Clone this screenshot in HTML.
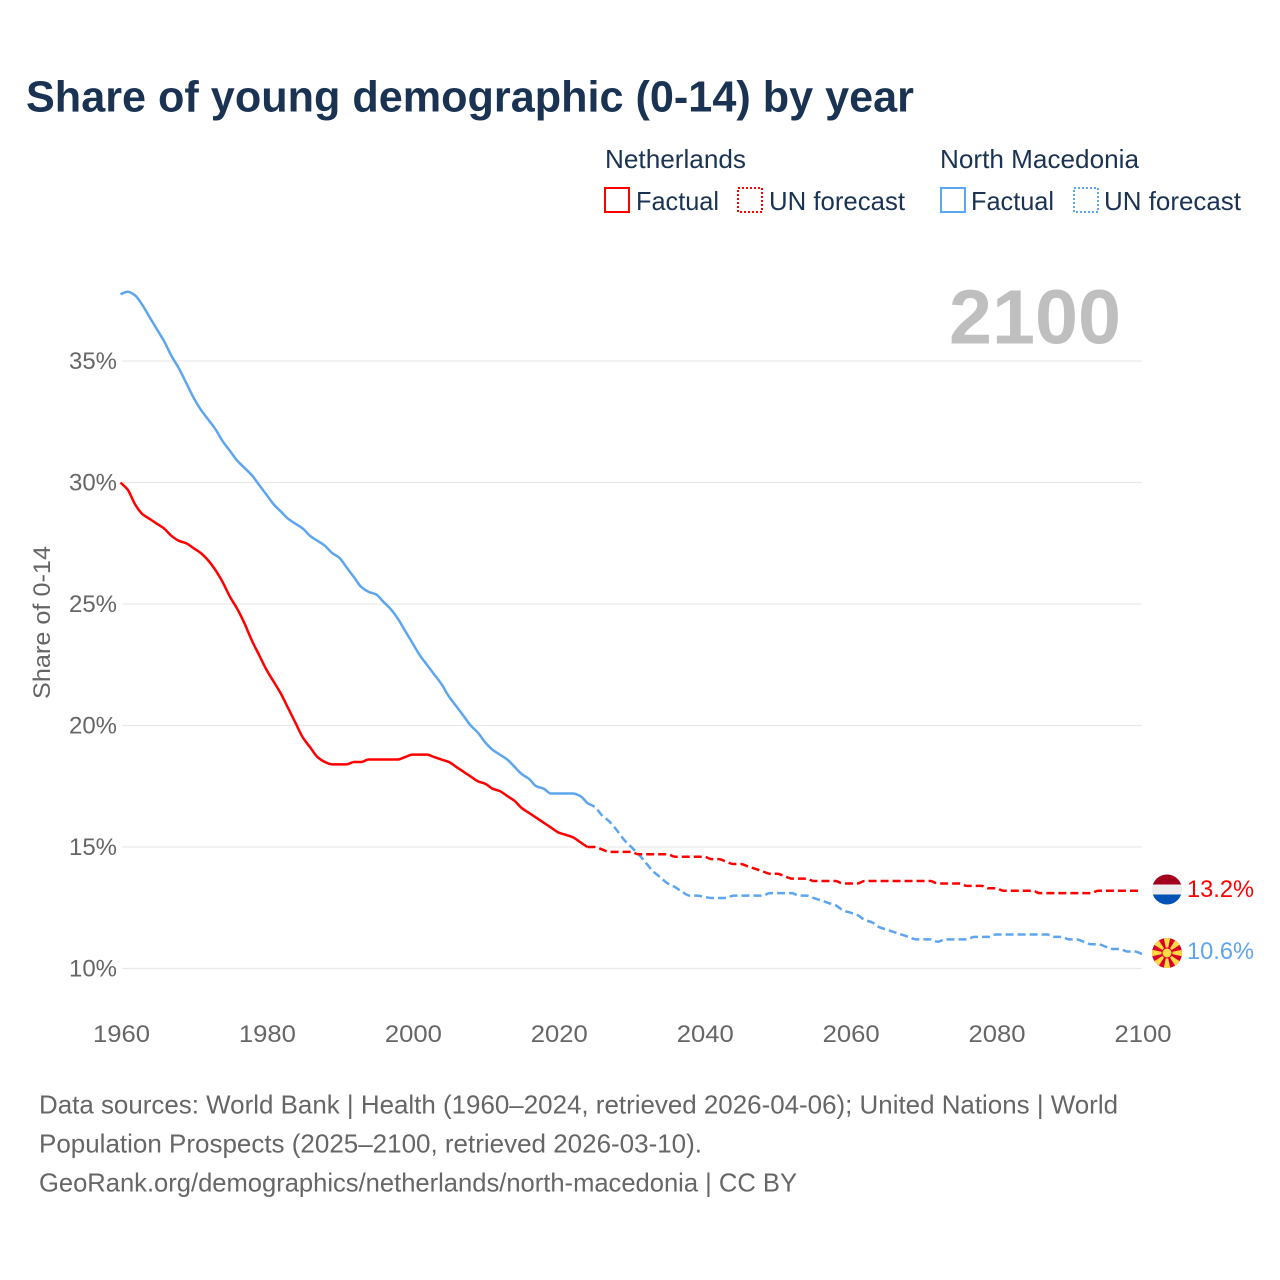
<!DOCTYPE html>
<html lang="en">
<head>
<meta charset="utf-8">
<title>Share of young demographic (0-14) by year</title>
<style>
html,body{margin:0;padding:0;background:#fff}
svg{display:block;font-family:"Liberation Sans",sans-serif}
</style>
</head>
<body>
<svg id="chart" xmlns="http://www.w3.org/2000/svg" width="1280" height="1280" viewBox="0 0 1280 1280">
<defs>
<clipPath id="flag-nl-clip"><circle cx="1167" cy="889.5" r="15"/></clipPath>
<clipPath id="flag-mk-clip"><circle cx="1167" cy="953" r="15"/></clipPath>
</defs>
<rect width="1280" height="1280" fill="#fff"/>
<text x="26" y="111.5" font-size="44" font-weight="700" fill="#1a3353" textLength="888" lengthAdjust="spacingAndGlyphs">Share of young demographic (0-14) by year</text>

<g font-size="26" fill="#1a3353">
<text x="605" y="168" textLength="141" lengthAdjust="spacingAndGlyphs">Netherlands</text>
<rect x="605" y="188" width="24" height="24" fill="none" stroke="#ff0000" stroke-width="2"/>
<text x="636" y="210" textLength="83" lengthAdjust="spacingAndGlyphs">Factual</text>
<rect x="738" y="188" width="24" height="24" fill="none" stroke="#ff0000" stroke-width="2" stroke-dasharray="2 2"/>
<text x="769" y="210" textLength="136" lengthAdjust="spacingAndGlyphs">UN forecast</text>
<text x="940" y="168" textLength="199" lengthAdjust="spacingAndGlyphs">North Macedonia</text>
<rect x="941" y="188" width="24" height="24" fill="none" stroke="#5da5ee" stroke-width="2"/>
<text x="971" y="210" textLength="83" lengthAdjust="spacingAndGlyphs">Factual</text>
<rect x="1074" y="188" width="24" height="24" fill="none" stroke="#5da5ee" stroke-width="2" stroke-dasharray="2 2"/>
<text x="1104" y="210" textLength="137" lengthAdjust="spacingAndGlyphs">UN forecast</text>
</g>

<g id="grid"></g>
<text x="949" y="343.5" font-size="77" font-weight="700" fill="#bfbfbf" textLength="172" lengthAdjust="spacingAndGlyphs">2100</text>
<g id="y-ticks"></g>
<g id="x-ticks"></g>
<text transform="translate(50 622.5) rotate(-90)" text-anchor="middle" font-size="24" fill="#666" textLength="153" lengthAdjust="spacingAndGlyphs">Share of 0-14</text>
<g id="series"></g>

<g clip-path="url(#flag-nl-clip)">
<rect x="1152" y="874" width="30" height="10.5" fill="#a2001d"/>
<rect x="1152" y="884.5" width="30" height="10" fill="#eeeeee"/>
<rect x="1152" y="894.5" width="30" height="11" fill="#0052b4"/>
</g>
<g clip-path="url(#flag-mk-clip)">
<rect x="1152" y="938" width="30" height="30" fill="#d80027"/>
<g fill="#ffda44">
<path d="M1167 953L1163.5 937H1170.5Z"/>
<path d="M1167 953L1163.5 937H1170.5Z" transform="rotate(45 1167 953)"/>
<path d="M1167 953L1163.5 937H1170.5Z" transform="rotate(90 1167 953)"/>
<path d="M1167 953L1163.5 937H1170.5Z" transform="rotate(135 1167 953)"/>
<path d="M1167 953L1163.5 937H1170.5Z" transform="rotate(180 1167 953)"/>
<path d="M1167 953L1163.5 937H1170.5Z" transform="rotate(225 1167 953)"/>
<path d="M1167 953L1163.5 937H1170.5Z" transform="rotate(270 1167 953)"/>
<path d="M1167 953L1163.5 937H1170.5Z" transform="rotate(315 1167 953)"/>
<circle cx="1167" cy="953" r="5" stroke="#d80027" stroke-width="1"/>
</g>
</g>
<g id="end-labels"></g>

<g font-size="26" fill="#666">
<text x="39" y="1113.5" textLength="1079" lengthAdjust="spacingAndGlyphs">Data sources: World Bank | Health (1960–2024, retrieved 2026-04-06); United Nations | World</text>
<text x="39" y="1152.5" textLength="663" lengthAdjust="spacingAndGlyphs">Population Prospects (2025–2100, retrieved 2026-03-10).</text>
<text x="39" y="1191.5" textLength="758" lengthAdjust="spacingAndGlyphs">GeoRank.org/demographics/netherlands/north-macedonia | CC BY</text>
</g>
</svg>
<script>
const firstYear = 1960;
const lastFactualYear = 2024;
const yTickValues = [10, 15, 20, 25, 30, 35];
const xTickValues = [1960, 1980, 2000, 2020, 2040, 2060, 2080, 2100];
const netherlandsValues = [
30.0,29.7,29.1,28.7,28.5,28.3,28.1,27.8,27.6,27.5,
27.3,27.1,26.8,26.4,25.9,25.3,24.8,24.2,23.5,22.9,
22.3,21.8,21.3,20.7,20.1,19.5,19.1,18.7,18.5,18.4,
18.4,18.4,18.5,18.5,18.6,18.6,18.6,18.6,18.6,18.7,
18.8,18.8,18.8,18.7,18.6,18.5,18.3,18.1,17.9,17.7,
17.6,17.4,17.3,17.1,16.9,16.6,16.4,16.2,16.0,15.8,
15.6,15.5,15.4,15.2,15.0,15.0,14.9,14.8,14.8,14.8,
14.8,14.7,14.7,14.7,14.7,14.7,14.6,14.6,14.6,14.6,
14.6,14.5,14.5,14.4,14.3,14.3,14.2,14.1,14.0,13.9,
13.9,13.8,13.7,13.7,13.7,13.6,13.6,13.6,13.6,13.5,
13.5,13.5,13.6,13.6,13.6,13.6,13.6,13.6,13.6,13.6,
13.6,13.6,13.5,13.5,13.5,13.5,13.4,13.4,13.4,13.3,
13.3,13.2,13.2,13.2,13.2,13.2,13.1,13.1,13.1,13.1,
13.1,13.1,13.1,13.1,13.2,13.2,13.2,13.2,13.2,13.2,
13.2];
const northMacedoniaValues = [
37.75,37.85,37.7,37.3,36.8,36.3,35.8,35.2,34.7,34.1,
33.5,33.0,32.6,32.2,31.7,31.3,30.9,30.6,30.3,29.9,
29.5,29.1,28.8,28.5,28.3,28.1,27.8,27.6,27.4,27.1,
26.9,26.5,26.1,25.7,25.5,25.4,25.1,24.8,24.4,23.9,
23.4,22.9,22.5,22.1,21.7,21.2,20.8,20.4,20.0,19.7,
19.3,19.0,18.8,18.6,18.3,18.0,17.8,17.5,17.4,17.2,
17.2,17.2,17.2,17.1,16.8,16.65,16.3,16.05,15.7,15.3,
15.0,14.7,14.35,14.0,13.75,13.5,13.35,13.15,13.0,13.0,
12.95,12.9,12.9,12.9,13.0,13.0,13.0,13.0,13.0,13.1,
13.1,13.1,13.1,13.0,13.0,12.9,12.8,12.7,12.6,12.4,
12.3,12.2,12.0,11.9,11.7,11.6,11.5,11.4,11.3,11.2,
11.2,11.2,11.1,11.2,11.2,11.2,11.2,11.3,11.3,11.3,
11.4,11.4,11.4,11.4,11.4,11.4,11.4,11.4,11.3,11.3,
11.2,11.2,11.1,11.0,11.0,10.9,10.8,10.8,10.7,10.7,
10.6];

const SVG_NS = 'http://www.w3.org/2000/svg';
const xScale = year => 120.5 + (year - 1960) * (1142 - 120.5) / 140;
const yScale = value => 968.5 - (value - 10) * 24.3;

function make(tag, attrs, parent, content) {
  const el = document.createElementNS(SVG_NS, tag);
  for (const key in attrs) el.setAttribute(key, attrs[key]);
  if (content !== undefined) el.textContent = content;
  parent.appendChild(el);
  return el;
}
// Monotone cubic path through the yearly values (no overshoot).
function smoothPath(values, fromYear, toYear) {
  const xs = [], ys = [];
  for (let y = fromYear; y <= toYear; y++) {
    xs.push(xScale(y));
    ys.push(yScale(values[y - firstYear]));
  }
  const n = xs.length;
  const slopes = [];
  for (let i = 0; i < n - 1; i++) slopes.push((ys[i + 1] - ys[i]) / (xs[i + 1] - xs[i]));
  const tangents = [slopes[0]];
  for (let i = 1; i < n - 1; i++) {
    tangents.push(slopes[i - 1] * slopes[i] <= 0 ? 0 : 2 * slopes[i - 1] * slopes[i] / (slopes[i - 1] + slopes[i]));
  }
  tangents.push(slopes[n - 2]);
  let d = 'M' + xs[0].toFixed(2) + ' ' + ys[0].toFixed(2);
  for (let i = 0; i < n - 1; i++) {
    const h = (xs[i + 1] - xs[i]) / 3;
    d += 'C' + (xs[i] + h).toFixed(2) + ' ' + (ys[i] + tangents[i] * h).toFixed(2) + ' ' +
         (xs[i + 1] - h).toFixed(2) + ' ' + (ys[i + 1] - tangents[i + 1] * h).toFixed(2) + ' ' +
         xs[i + 1].toFixed(2) + ' ' + ys[i + 1].toFixed(2);
  }
  return d;
}

const gridGroup = document.getElementById('grid');
const yTickGroup = document.getElementById('y-ticks');
yTickValues.forEach(v => {
  const line = make('line', {x1: 122, x2: 1142, y1: yScale(v), y2: yScale(v), stroke: '#e9e9e9', 'stroke-width': 1.2}, gridGroup);
  
  
  const label = make('text', {x: 117, y: yScale(v) + 8, 'text-anchor': 'end', 'font-size': 24, fill: '#666', textLength: 48, lengthAdjust: 'spacingAndGlyphs'}, yTickGroup, v + '%');
  
  
});

const xTickGroup = document.getElementById('x-ticks');
xTickValues.forEach(year => {
  const label = make('text', {x: xScale(year) + 1, y: 1042, 'text-anchor': 'middle', 'font-size': 24, fill: '#666', textLength: 57, lengthAdjust: 'spacingAndGlyphs'}, xTickGroup, String(year));
  
  
});

const seriesGroup = document.getElementById('series');
const lastYear = firstYear + netherlandsValues.length - 1;
const seriesColors = ['#5da5ee', '#ff0000'];
[northMacedoniaValues, netherlandsValues].forEach((values, i) => {
  const common = {fill: 'none', stroke: seriesColors[i], 'stroke-width': 2.5, 'stroke-linejoin': 'round'};
  const factual = make('path', Object.assign({d: smoothPath(values, firstYear, lastFactualYear)}, common), seriesGroup);
  
  
  const forecast = make('path', Object.assign({d: smoothPath(values, lastFactualYear, lastYear), 'stroke-dasharray': '8 4'}, common), seriesGroup);
  
  
});

const endGroup = document.getElementById('end-labels');
const nlLast = netherlandsValues[netherlandsValues.length - 1];
const mkLast = northMacedoniaValues[northMacedoniaValues.length - 1];
const nlLabel = make('text', {x: 1187, y: 897, 'font-size': 24, fill: '#ff0000', textLength: 67, lengthAdjust: 'spacingAndGlyphs'}, endGroup, nlLast.toFixed(1) + '%');


const mkLabel = make('text', {x: 1187, y: 959, 'font-size': 24, fill: '#5da5ee', textLength: 67, lengthAdjust: 'spacingAndGlyphs'}, endGroup, mkLast.toFixed(1) + '%');


</script>
</body>
</html>
